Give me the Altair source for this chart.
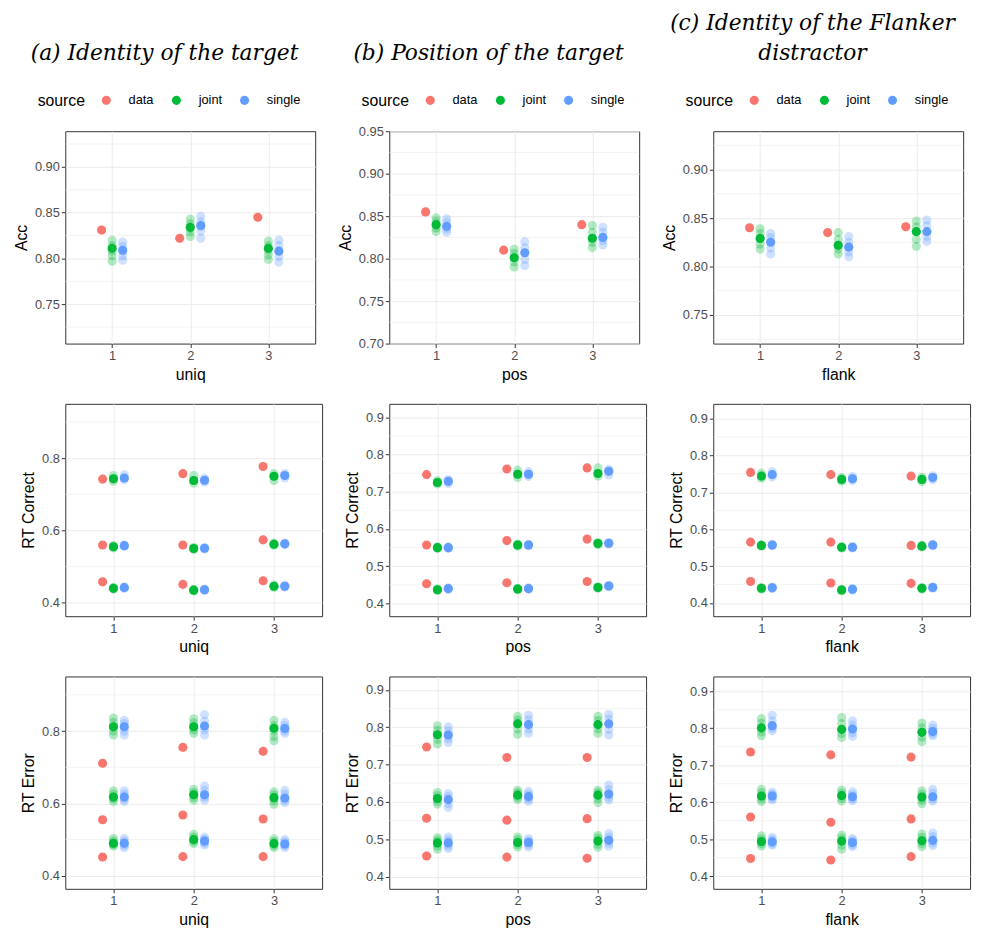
import altair as alt
import pandas as pd

SOURCES = ["data", "joint", "single"]
COLORS = ["#F8766D", "#00BA38", "#619CFF"]
CATS = [1, 2, 3]
DODGE = {"data": -0.135, "joint": 0.0, "single": 0.135}

# ---------------- (a) Identity of the target : uniq ----------------
A_ACC_DATA = [0.831, 0.822, 0.845]
A_ACC_JOINT = [0.811, 0.834, 0.811]
A_ACC_SINGLE = [0.809, 0.836, 0.808]
A_ACC_JOINT_REPS = [[0.797, 0.803, 0.808, 0.814, 0.820],
                    [0.824, 0.829, 0.833, 0.838, 0.843],
                    [0.799, 0.804, 0.809, 0.814, 0.819]]
A_ACC_SINGLE_REPS = [[0.798, 0.803, 0.808, 0.813, 0.818],
                     [0.822, 0.830, 0.835, 0.840, 0.846],
                     [0.796, 0.802, 0.808, 0.814, 0.820]]

# RT arrays: per category -> [q_low, q_mid, q_high]
A_RTC_DATA = [[0.458, 0.560, 0.742], [0.451, 0.560, 0.757], [0.461, 0.574, 0.777]]
A_RTC_JOINT = [[0.440, 0.555, 0.743], [0.435, 0.550, 0.738], [0.446, 0.562, 0.750]]
A_RTC_SINGLE = [[0.442, 0.558, 0.745], [0.436, 0.551, 0.739], [0.446, 0.563, 0.752]]
A_RTC_JOINT_REPS = [
    [[0.438, 0.440, 0.442], [0.552, 0.555, 0.558], [0.736, 0.743, 0.752]],
    [[0.433, 0.435, 0.437], [0.547, 0.550, 0.553], [0.731, 0.738, 0.752]],
    [[0.443, 0.446, 0.449], [0.559, 0.562, 0.565], [0.738, 0.750, 0.757]]]
A_RTC_SINGLE_REPS = [
    [[0.440, 0.442, 0.444], [0.556, 0.558, 0.560], [0.740, 0.745, 0.754]],
    [[0.434, 0.436, 0.438], [0.549, 0.551, 0.553], [0.734, 0.739, 0.744]],
    [[0.444, 0.446, 0.449], [0.561, 0.563, 0.565], [0.745, 0.752, 0.757]]]

A_RTE_DATA = [[0.452, 0.555, 0.711], [0.453, 0.568, 0.755], [0.453, 0.557, 0.744]]
A_RTE_JOINT = [[0.490, 0.618, 0.812], [0.500, 0.624, 0.812], [0.489, 0.616, 0.808]]
A_RTE_SINGLE = [[0.490, 0.618, 0.812], [0.496, 0.624, 0.814], [0.488, 0.615, 0.807]]
A_RTE_JOINT_REPS = [
    [[0.482, 0.486, 0.490, 0.496, 0.503], [0.605, 0.612, 0.618, 0.626, 0.635], [0.789, 0.800, 0.812, 0.824, 0.836]],
    [[0.489, 0.495, 0.500, 0.507, 0.515], [0.609, 0.616, 0.624, 0.631, 0.639], [0.794, 0.803, 0.812, 0.823, 0.834]],
    [[0.478, 0.484, 0.489, 0.495, 0.502], [0.598, 0.607, 0.616, 0.624, 0.632], [0.773, 0.785, 0.800, 0.815, 0.830]]]
A_RTE_SINGLE_REPS = [
    [[0.478, 0.484, 0.490, 0.496, 0.503], [0.605, 0.612, 0.618, 0.626, 0.635], [0.789, 0.800, 0.812, 0.821, 0.830]],
    [[0.485, 0.490, 0.496, 0.501, 0.507], [0.609, 0.617, 0.624, 0.636, 0.648], [0.789, 0.803, 0.814, 0.828, 0.845]],
    [[0.478, 0.483, 0.488, 0.494, 0.500], [0.602, 0.608, 0.615, 0.626, 0.636], [0.794, 0.800, 0.807, 0.815, 0.824]]]

# ---------------- (b) Position of the target : pos ----------------
B_ACC_DATA = [0.855, 0.810, 0.840]
B_ACC_JOINT = [0.840, 0.801, 0.824]
B_ACC_SINGLE = [0.838, 0.807, 0.825]
B_ACC_JOINT_REPS = [[0.832, 0.836, 0.840, 0.844, 0.848],
                    [0.790, 0.796, 0.801, 0.806, 0.811],
                    [0.813, 0.819, 0.824, 0.831, 0.839]]
B_ACC_SINGLE_REPS = [[0.831, 0.835, 0.838, 0.843, 0.847],
                     [0.792, 0.799, 0.807, 0.813, 0.820],
                     [0.816, 0.821, 0.825, 0.831, 0.837]]

B_RTC_DATA = [[0.453, 0.557, 0.746], [0.456, 0.569, 0.761], [0.459, 0.573, 0.764]]
B_RTC_JOINT = [[0.437, 0.550, 0.725], [0.439, 0.557, 0.747], [0.443, 0.561, 0.749]]
B_RTC_SINGLE = [[0.440, 0.550, 0.728], [0.440, 0.557, 0.747], [0.447, 0.562, 0.755]]
B_RTC_JOINT_REPS = [
    [[0.435, 0.437, 0.439], [0.548, 0.550, 0.552], [0.721, 0.725, 0.730]],
    [[0.437, 0.439, 0.441], [0.554, 0.557, 0.560], [0.738, 0.747, 0.758]],
    [[0.441, 0.443, 0.445], [0.558, 0.561, 0.564], [0.742, 0.749, 0.764]]]
B_RTC_SINGLE_REPS = [
    [[0.438, 0.440, 0.442], [0.548, 0.550, 0.552], [0.722, 0.728, 0.733]],
    [[0.438, 0.440, 0.442], [0.555, 0.557, 0.559], [0.741, 0.747, 0.754]],
    [[0.445, 0.447, 0.449], [0.560, 0.562, 0.564], [0.745, 0.755, 0.760]]]

B_RTE_DATA = [[0.455, 0.556, 0.747], [0.452, 0.551, 0.719], [0.449, 0.555, 0.719]]
B_RTE_JOINT = [[0.490, 0.609, 0.780], [0.491, 0.618, 0.809], [0.495, 0.618, 0.807]]
B_RTE_SINGLE = [[0.490, 0.606, 0.779], [0.491, 0.614, 0.807], [0.497, 0.621, 0.809]]
B_RTE_JOINT_REPS = [
    [[0.473, 0.481, 0.490, 0.497, 0.504], [0.594, 0.601, 0.609, 0.617, 0.625], [0.755, 0.767, 0.780, 0.792, 0.804]],
    [[0.479, 0.485, 0.491, 0.499, 0.506], [0.606, 0.612, 0.618, 0.625, 0.631], [0.781, 0.795, 0.809, 0.819, 0.829]],
    [[0.478, 0.486, 0.495, 0.503, 0.510], [0.598, 0.608, 0.618, 0.625, 0.631], [0.784, 0.796, 0.807, 0.818, 0.829]]]
B_RTE_SINGLE_REPS = [
    [[0.475, 0.482, 0.490, 0.498, 0.506], [0.585, 0.595, 0.606, 0.614, 0.622], [0.759, 0.769, 0.779, 0.790, 0.801]],
    [[0.479, 0.485, 0.491, 0.496, 0.502], [0.601, 0.607, 0.614, 0.621, 0.628], [0.784, 0.795, 0.807, 0.820, 0.832]],
    [[0.481, 0.489, 0.497, 0.506, 0.515], [0.605, 0.612, 0.621, 0.633, 0.645], [0.779, 0.794, 0.809, 0.822, 0.834]]]

# ---------------- (c) Identity of the Flanker distractor : flank ----------------
C_ACC_DATA = [0.840, 0.835, 0.841]
C_ACC_JOINT = [0.829, 0.822, 0.836]
C_ACC_SINGLE = [0.825, 0.820, 0.836]
C_ACC_JOINT_REPS = [[0.818, 0.823, 0.829, 0.834, 0.839],
                    [0.813, 0.818, 0.822, 0.828, 0.835],
                    [0.821, 0.828, 0.836, 0.841, 0.847]]
C_ACC_SINGLE_REPS = [[0.813, 0.819, 0.825, 0.830, 0.834],
                     [0.810, 0.815, 0.820, 0.825, 0.831],
                     [0.826, 0.831, 0.836, 0.842, 0.848]]

C_RTC_DATA = [[0.458, 0.565, 0.754], [0.454, 0.565, 0.748], [0.453, 0.556, 0.744]]
C_RTC_JOINT = [[0.440, 0.556, 0.744], [0.435, 0.551, 0.735], [0.440, 0.554, 0.735]]
C_RTC_SINGLE = [[0.441, 0.557, 0.748], [0.437, 0.551, 0.737], [0.442, 0.557, 0.740]]
C_RTC_JOINT_REPS = [
    [[0.438, 0.440, 0.442], [0.554, 0.556, 0.558], [0.738, 0.744, 0.752]],
    [[0.433, 0.435, 0.437], [0.549, 0.551, 0.553], [0.730, 0.735, 0.740]],
    [[0.438, 0.440, 0.442], [0.552, 0.554, 0.556], [0.729, 0.735, 0.741]]]
C_RTC_SINGLE_REPS = [
    [[0.439, 0.441, 0.443], [0.555, 0.557, 0.559], [0.742, 0.748, 0.756]],
    [[0.435, 0.437, 0.439], [0.549, 0.551, 0.553], [0.732, 0.737, 0.743]],
    [[0.440, 0.442, 0.444], [0.555, 0.557, 0.559], [0.734, 0.740, 0.745]]]

C_RTE_DATA = [[0.448, 0.560, 0.736], [0.444, 0.546, 0.728], [0.453, 0.555, 0.722]]
C_RTE_JOINT = [[0.494, 0.617, 0.801], [0.495, 0.618, 0.797], [0.496, 0.614, 0.789]]
C_RTE_SINGLE = [[0.493, 0.617, 0.807], [0.491, 0.615, 0.798], [0.497, 0.615, 0.791]]
C_RTE_JOINT_REPS = [
    [[0.482, 0.488, 0.494, 0.501, 0.509], [0.602, 0.609, 0.617, 0.626, 0.635], [0.780, 0.790, 0.801, 0.814, 0.826]],
    [[0.473, 0.484, 0.495, 0.503, 0.511], [0.603, 0.610, 0.618, 0.625, 0.633], [0.775, 0.786, 0.797, 0.813, 0.829]],
    [[0.480, 0.488, 0.496, 0.505, 0.514], [0.596, 0.605, 0.614, 0.622, 0.631], [0.764, 0.776, 0.789, 0.801, 0.814]]]
C_RTE_SINGLE_REPS = [
    [[0.484, 0.488, 0.493, 0.499, 0.505], [0.606, 0.611, 0.617, 0.622, 0.627], [0.793, 0.800, 0.807, 0.820, 0.835]],
    [[0.480, 0.485, 0.491, 0.497, 0.502], [0.604, 0.609, 0.615, 0.621, 0.628], [0.778, 0.788, 0.798, 0.809, 0.820]],
    [[0.483, 0.490, 0.497, 0.507, 0.517], [0.603, 0.609, 0.615, 0.625, 0.635], [0.780, 0.785, 0.791, 0.800, 0.809]]]

# axis ticks / minor grid values
ACC_A_TICKS = [0.75, 0.80, 0.85, 0.90]
ACC_A_MINOR = [0.725, 0.775, 0.825, 0.875, 0.925]
ACC_B_TICKS = [0.70, 0.75, 0.80, 0.85, 0.90, 0.95]
ACC_B_MINOR = [0.725, 0.775, 0.825, 0.875, 0.925]
RT_A_TICKS = [0.4, 0.6, 0.8]
RT_A_MINOR = [0.5, 0.7, 0.9]
RT_BC_TICKS = [0.4, 0.5, 0.6, 0.7, 0.8, 0.9]
RT_BC_MINOR = [0.45, 0.55, 0.65, 0.75, 0.85]

FONT = "Liberation Sans"


def acc_frames(d, j, s, jr, sr):
    means, reps = [], []
    for i, c in enumerate(CATS):
        for src, vals in (("data", d), ("joint", j), ("single", s)):
            means.append({"source": src, "x": c + DODGE[src], "y": vals[i]})
        for src, vals in (("joint", jr), ("single", sr)):
            for v in vals[i]:
                reps.append({"source": src, "x": c + DODGE[src], "y": v})
    return pd.DataFrame(means), pd.DataFrame(reps)


def rt_frames(d, j, s, jr, sr):
    means, reps = [], []
    for i, c in enumerate(CATS):
        for q in range(3):
            for src, vals in (("data", d), ("joint", j), ("single", s)):
                means.append({"source": src, "x": c + DODGE[src], "y": vals[i][q]})
            for src, vals in (("joint", jr), ("single", sr)):
                for v in vals[i][q]:
                    reps.append({"source": src, "x": c + DODGE[src], "y": v})
    return pd.DataFrame(means), pd.DataFrame(reps)


def panel(frames, xtitle, ytitle, ydomain, yticks, yminor, yfmt, width, legend=False, title=None):
    means, reps = frames
    x = alt.X("x:Q", scale=alt.Scale(domain=[0.4, 3.6], nice=False, zero=False),
              axis=alt.Axis(values=[1, 2, 3], format="d", title=xtitle, grid=True,
                            titleFontWeight="normal"))
    y = alt.Y("y:Q", scale=alt.Scale(domain=ydomain, nice=False, zero=False),
              axis=alt.Axis(values=yticks, format=yfmt, title=ytitle, grid=True,
                            titleFontWeight="normal"))
    if legend:
        leg = alt.Legend(orient="none", legendX=-28, legendY=-38, direction="horizontal",
                         titleOrient="left", title="source", symbolType="circle",
                         symbolSize=85, symbolOpacity=1, symbolStrokeWidth=0,
                         labelFontSize=13, titleFontSize=16, titleFontWeight="normal",
                         titleColor="black", labelColor="black", labelFont=FONT, titleFont=FONT,
                         columnPadding=16, labelOffset=16, titlePadding=14)
    else:
        leg = None
    color = alt.Color("source:N", scale=alt.Scale(domain=SOURCES, range=COLORS), legend=leg)
    minor = pd.DataFrame({"y": yminor})
    rules = alt.Chart(minor).mark_rule(color="#EBEBEB", strokeWidth=0.6).encode(y=y)
    rep_layer = alt.Chart(reps).mark_circle(size=85, opacity=0.3).encode(x=x, y=y, color=color)
    mean_layer = alt.Chart(means).mark_circle(size=85, opacity=1).encode(x=x, y=y, color=color)
    ch = alt.layer(rules, rep_layer, mean_layer).properties(width=width, height=215)
    if title is not None:
        ch = ch.properties(title=alt.TitleParams(
            text=title, font="DejaVu Serif", fontStyle="italic", fontWeight="normal",
            fontSize=22, lineHeight=30, color="black", anchor="middle", offset=29,
            baseline="top", frame="bounds"))
    return ch


ACC_W = 253
RT_W = 260
RES = dict(x="independent", y="independent", color="independent")

row1 = alt.hconcat(
    panel(acc_frames(A_ACC_DATA, A_ACC_JOINT, A_ACC_SINGLE, A_ACC_JOINT_REPS, A_ACC_SINGLE_REPS),
          "uniq", "Acc", [0.707, 0.939], ACC_A_TICKS, ACC_A_MINOR, ".2f", ACC_W,
          legend=True, title=[" ", "(a) Identity of the target"]),
    panel(acc_frames(B_ACC_DATA, B_ACC_JOINT, B_ACC_SINGLE, B_ACC_JOINT_REPS, B_ACC_SINGLE_REPS),
          "pos", "Acc", [0.70, 0.95], ACC_B_TICKS, ACC_B_MINOR, ".2f", ACC_W,
          legend=True, title=[" ", "(b) Position of the target"]),
    panel(acc_frames(C_ACC_DATA, C_ACC_JOINT, C_ACC_SINGLE, C_ACC_JOINT_REPS, C_ACC_SINGLE_REPS),
          "flank", "Acc", [0.7205, 0.9396], ACC_A_TICKS, ACC_A_MINOR, ".2f", ACC_W,
          legend=True, title=["(c) Identity of the Flanker", "distractor"]),
    spacing=21,
).resolve_scale(**RES)

row2 = alt.hconcat(
    panel(rt_frames(A_RTC_DATA, A_RTC_JOINT, A_RTC_SINGLE, A_RTC_JOINT_REPS, A_RTC_SINGLE_REPS),
          "uniq", "RT Correct", [0.363, 0.95], RT_A_TICKS, RT_A_MINOR, ".1f", RT_W),
    panel(rt_frames(B_RTC_DATA, B_RTC_JOINT, B_RTC_SINGLE, B_RTC_JOINT_REPS, B_RTC_SINGLE_REPS),
          "pos", "RT Correct", [0.366, 0.936], RT_BC_TICKS, RT_BC_MINOR, ".1f", RT_W),
    panel(rt_frames(C_RTC_DATA, C_RTC_JOINT, C_RTC_SINGLE, C_RTC_JOINT_REPS, C_RTC_SINGLE_REPS),
          "flank", "RT Correct", [0.364, 0.940], RT_BC_TICKS, RT_BC_MINOR, ".1f", RT_W),
    spacing=21,
).resolve_scale(**RES)

row3 = alt.hconcat(
    panel(rt_frames(A_RTE_DATA, A_RTE_JOINT, A_RTE_SINGLE, A_RTE_JOINT_REPS, A_RTE_SINGLE_REPS),
          "uniq", "RT Error", [0.364, 0.951], RT_A_TICKS, RT_A_MINOR, ".1f", RT_W),
    panel(rt_frames(B_RTE_DATA, B_RTE_JOINT, B_RTE_SINGLE, B_RTE_JOINT_REPS, B_RTE_SINGLE_REPS),
          "pos", "RT Error", [0.367, 0.936], RT_BC_TICKS, RT_BC_MINOR, ".1f", RT_W),
    panel(rt_frames(C_RTE_DATA, C_RTE_JOINT, C_RTE_SINGLE, C_RTE_JOINT_REPS, C_RTE_SINGLE_REPS),
          "flank", "RT Error", [0.366, 0.940], RT_BC_TICKS, RT_BC_MINOR, ".1f", RT_W),
    spacing=21,
).resolve_scale(**RES)

chart = alt.vconcat(row1, row2, row3, spacing=20).resolve_scale(**RES).properties(
    padding={"top": -2, "left": 5, "right": 5, "bottom": 2}
).configure_view(
    stroke="#333333", strokeWidth=1
).configure_axis(
    gridColor="#EBEBEB", gridWidth=1, domain=False, tickColor="#333333", tickSize=4,
    labelColor="#4D4D4D", labelFontSize=13, labelFont=FONT, labelPadding=2,
    titleFont=FONT, titleFontSize=16, titleFontWeight="normal", titleColor="black",
    titlePadding=4
).configure_axisY(
    titlePadding=5
)

chart.save("out.html", embed_options={"renderer": "svg", "actions": False})
